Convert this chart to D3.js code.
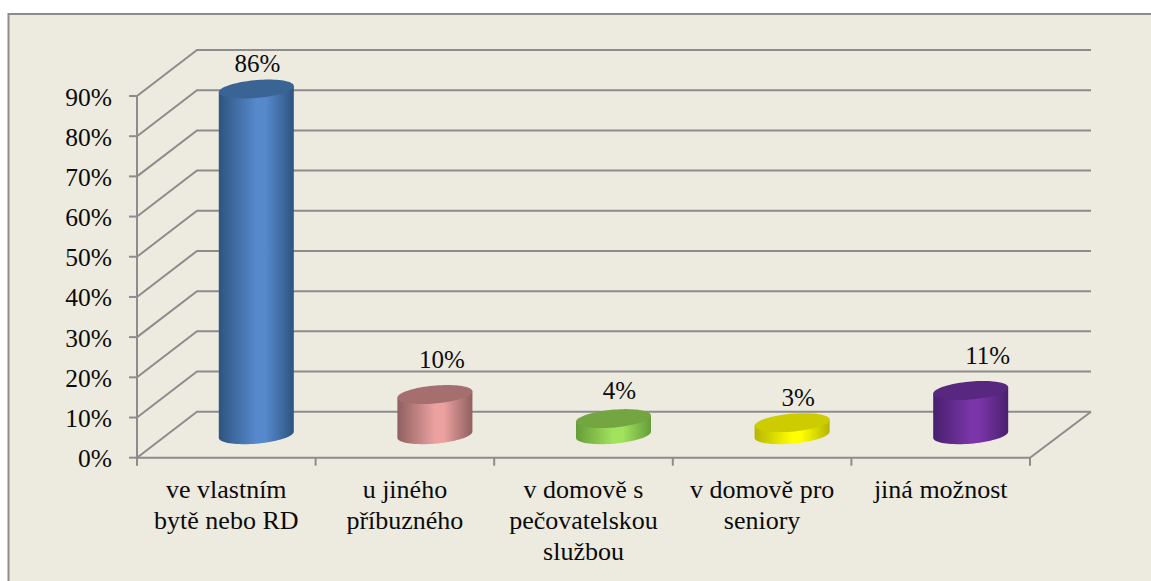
<!DOCTYPE html>
<html><head><meta charset="utf-8">
<script src="https://cdn.jsdelivr.net/npm/d3@7"></script>
<style>html,body{margin:0;padding:0;background:#fff;overflow:hidden}svg{display:block}text{font-family:"Liberation Serif",serif;fill:#0a0a0a}</style>
</head><body><div id="c"></div>
<script>
const categories=[["ve vlastním","bytě nebo RD"],["u jiného","příbuzného"],["v domově s","pečovatelskou","službou"],["v domově pro","seniory"],["jiná možnost"]];
const values=[86,10,4,3,11];
const labels=["86%","10%","4%","3%","11%"];
const ticks=[0,10,20,30,40,50,60,70,80,90];
const bodyColors=[["#2d5480","#5689cc"],["#8f5f5f","#eba1a0"],["#669c38","#a2e35e"],["#b5b500","#ffff00"],["#48206f","#7a35a8"]];
const topColors=["#3a6494","#a56f6f","#73a640","#cccc00","#58277f"];
const labelShiftX=[1,7,6,6,17];
const labelShiftY=[-17.5,-27,-20,-17,-26];

const W=1151,H=581;
const svg=d3.select("#c").append("svg").attr("width",W).attr("height",H);
svg.append("rect").attr("x",8.5).attr("y",14).attr("width",1160).attr("height",600).attr("fill","#edebe0").attr("stroke","#8c8c8c").attr("stroke-width",2);

const y=d3.scaleLinear().domain([0,90]).range([457.7,96]);
const x=d3.scaleBand().domain(d3.range(5)).range([137,1030]);
const depth={x:60,y:-46};
const grid="#8c8c8c";
const g=svg.append("g").attr("fill","none").attr("stroke",grid).attr("stroke-width",2);

ticks.forEach(t=>{
  g.append("path").attr("d",d3.line()([[x.range()[0],y(t)],[x.range()[0]+depth.x,y(t)+depth.y],[x.range()[1]+depth.x+1,y(t)+depth.y]]));
});
g.append("path").attr("d",d3.line()([[x.range()[0],y(0)],[x.range()[1],y(0)],[x.range()[1]+depth.x+1,y(0)+depth.y]]));
g.append("path").attr("d",d3.line()([[x.range()[0],y(0)],[x.range()[0],y(90)]]));
ticks.forEach(t=>{
  g.append("path").attr("d",d3.line()([[x.range()[0]-8,y(t)],[x.range()[0],y(t)]]));
  svg.append("text").attr("x",x.range()[0]-25).attr("y",y(t)+9.5).attr("text-anchor","end").attr("font-size",25.5).text(t+"%");
});
d3.range(6).forEach(i=>{
  const px=i<5?x(i):x.range()[1];
  g.append("path").attr("d",d3.line()([[px,y(0)],[px,y(0)+8]]));
});

const defs=svg.append("defs");
const R=35.4,Dx=12.4,Dy=-9.5;
const t0=Math.atan2(Dx,R);
const ell=(cx,cy,t)=>[cx+R*Math.cos(t)+Dx*Math.sin(t),cy+Dy*Math.sin(t)];
values.forEach((v,i)=>{
  const cx=x(i)+x.bandwidth()/2+depth.x/2;
  const by=y(0)+depth.y/2, ty=y(v)+depth.y/2;
  const id="g"+i;
  const gr=defs.append("linearGradient").attr("id",id);
  [[0,0],[.5,1],[.62,1],[1,0]].forEach(([o,k])=>gr.append("stop").attr("offset",o).attr("stop-color",bodyColors[i][k]));
  const pts=[ell(cx,ty,t0),...d3.range(0,41).map(k=>ell(cx,by,t0-Math.PI*k/40)),ell(cx,ty,t0-Math.PI)];
  svg.append("path").attr("d",d3.line()(pts)+"Z").attr("fill",`url(#${id})`);
  const top=d3.range(0,81).map(k=>ell(cx,ty,Math.PI*2*k/80));
  svg.append("path").attr("d",d3.line()(top)+"Z").attr("fill",topColors[i]);
  svg.append("text").attr("x",cx+labelShiftX[i]).attr("y",ty+labelShiftY[i]).attr("text-anchor","middle").attr("font-size",25).text(labels[i]);
  const lx=x(i)+x.bandwidth()/2;
  categories[i].forEach((s,j)=>{
    svg.append("text").attr("x",lx).attr("y",498+j*31).attr("text-anchor","middle").attr("font-size",26).text(s);
  });
});
</script></body></html>
